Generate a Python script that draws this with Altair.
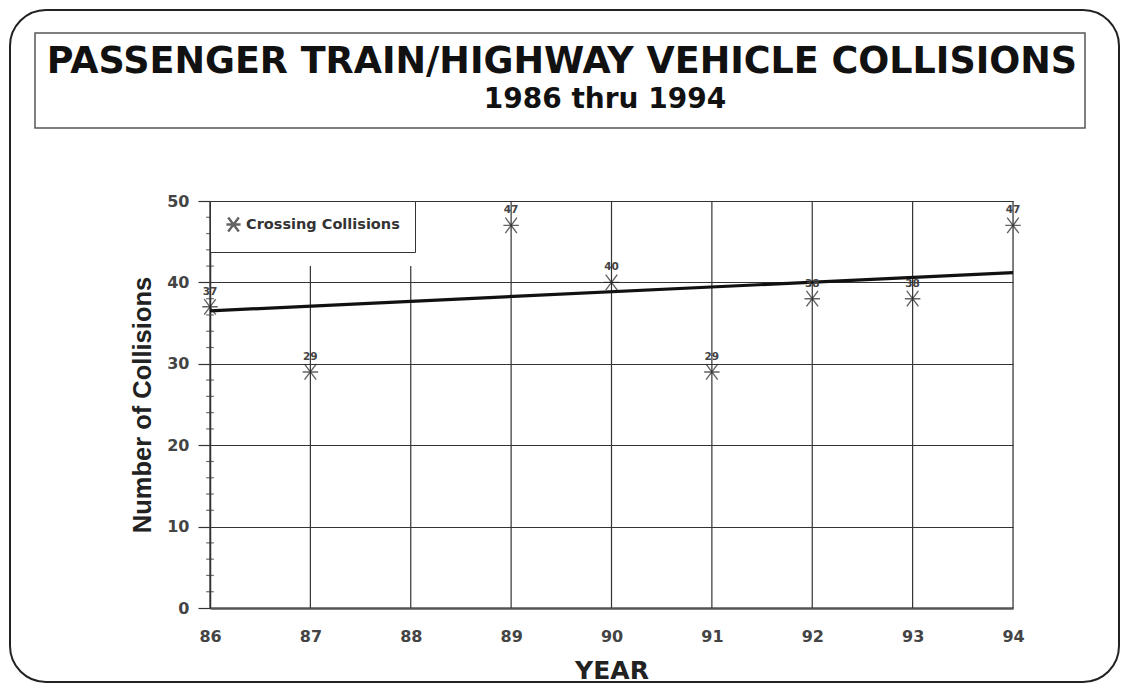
import altair as alt
import pandas as pd

# ---- data ----
years = [86, 87, 89, 90, 91, 92, 93, 94]
collisions = [37, 29, 47, 40, 29, 38, 38, 47]
trend_years = [86, 94]
trend_values = [36.5, 41.2]
grid_years = [86, 87, 88, 89, 90, 91, 92, 93, 94]
grid_tops = [50, 42, 42, 50, 50, 50, 50, 50, 50]
major_ticks = [0, 10, 20, 30, 40, 50]
minor_ticks = [v for v in range(2, 50, 2) if v % 10 != 0]
title_line1 = ["PASSENGER TRAIN/HIGHWAY VEHICLE COLLISIONS"]
title_line2 = ["1986 thru 1994"]
series_name = "Crossing Collisions"

ASTER = "M-1,0L1,0M-0.75,-1L0.75,1M-0.75,1L0.75,-1"
FONT = "DejaVu Sans"

df = pd.DataFrame({"year": years, "n": collisions, "series": [series_name] * len(years)})
trend = pd.DataFrame({"year": trend_years, "n": trend_values})
grid = pd.DataFrame({"year": grid_years, "n": [0] * len(grid_years), "top": grid_tops})
minor = pd.DataFrame({"year": [86] * len(minor_ticks), "n": minor_ticks})
one = pd.DataFrame({"a": [0]})

xs = alt.Scale(domain=[86, 94], nice=False, zero=False)
ys = alt.Scale(domain=[0, 50], nice=False)

xaxis = alt.Axis(
    values=grid_years, format="d", title="YEAR", grid=False,
    domain=True, domainColor="#555", domainWidth=2.5,
    ticks=False, labelPadding=20, labelFlush=False,
    labelFont=FONT, labelFontWeight="bold", labelFontSize=16, labelColor="#444",
    titleFont=FONT, titleFontWeight="bold", titleFontSize=25,
    titleColor="#222", titlePadding=14,
)
yaxis = alt.Axis(
    values=major_ticks, title="Number of Collisions", grid=True,
    gridColor="#333", gridWidth=1.2, domain=True, domainColor="#333",
    domainWidth=1.5, ticks=True, tickSize=12, tickColor="#333",
    tickWidth=1.2, labelPadding=9, labelFlush=False,
    labelFont=FONT, labelFontWeight="bold", labelFontSize=16, labelColor="#444",
    titleFont="Liberation Sans", titleFontWeight="bold", titleFontSize=25.5,
    titleColor="#222", titlePadding=11,
)


def X(field="year"):
    return alt.X(f"{field}:Q", scale=xs, axis=xaxis, title="YEAR")


def Y(field="n"):
    return alt.Y(f"{field}:Q", scale=ys, axis=yaxis, title="Number of Collisions")


# decorations: outer rounded frame and title box
frame = alt.Chart(one).mark_rect(
    fillOpacity=0, stroke="#222", strokeWidth=2, cornerRadius=36
).encode(x=alt.value(-200), x2=alt.value(909), y=alt.value(-191), y2=alt.value(481))

title_box = alt.Chart(one).mark_rect(
    fillOpacity=0, stroke="#555", strokeWidth=1.5
).encode(x=alt.value(-175), x2=alt.value(875), y=alt.value(-168), y2=alt.value(-73))

t1 = alt.Chart(pd.DataFrame({"t": title_line1})).mark_text(
    font=FONT, fontWeight="bold", fontSize=36.5, color="#111", baseline="middle"
).encode(x=alt.value(352), y=alt.value(-139), text="t:N")

t2 = alt.Chart(pd.DataFrame({"t": title_line2})).mark_text(
    font=FONT, fontWeight="bold", fontSize=28, color="#111", baseline="middle"
).encode(x=alt.value(395), y=alt.value(-101), text="t:N")

vgrid = alt.Chart(grid).mark_rule(color="#333", strokeWidth=1.2).encode(
    x=X(), y=Y(), y2="top:Q",
)

minor_marks = alt.Chart(minor).mark_point(
    shape="M-1,0L1,0", size=60, filled=False, stroke="#333", strokeWidth=1.2
).encode(x=X(), y=Y())

trend_line = alt.Chart(trend).mark_line(color="#111", strokeWidth=3.2).encode(
    x=X(), y=Y(),
)

points = alt.Chart(df).mark_point(
    filled=False, size=240, strokeWidth=1.4, stroke="#222"
).encode(
    x=X(),
    y=Y(),
    shape=alt.Shape(
        "series:N",
        scale=alt.Scale(range=[ASTER]),
        legend=alt.Legend(
            title=None, orient="top-left", offset=0, padding=15,
            strokeColor="#333", fillColor="white",
            labelFont=FONT, labelFontWeight="bold", labelFontSize=14.5, labelColor="#333",
            symbolSize=200, symbolStrokeColor="#222", symbolStrokeWidth=2.4,
            symbolFillColor="transparent", labelOffset=4, labelLimit=300,
        ),
    ),
)

labels = alt.Chart(df).mark_text(
    dy=-15, font=FONT, fontWeight="bold", fontSize=10.5, color="#444"
).encode(
    x=X(), y=Y(),
    text=alt.Text("n:Q", format="d"),
)

chart = alt.layer(
    frame, title_box, t1, t2, vgrid, minor_marks, trend_line, points, labels
).properties(
    width=803, height=407,
    autosize=alt.AutoSizeParams(type="none"),
    padding={"left": 202, "top": 193, "right": 107, "bottom": 77},
).configure_view(stroke=None).configure(background="white")

chart.save("out.html", embed_options={"renderer": "svg", "actions": False})
